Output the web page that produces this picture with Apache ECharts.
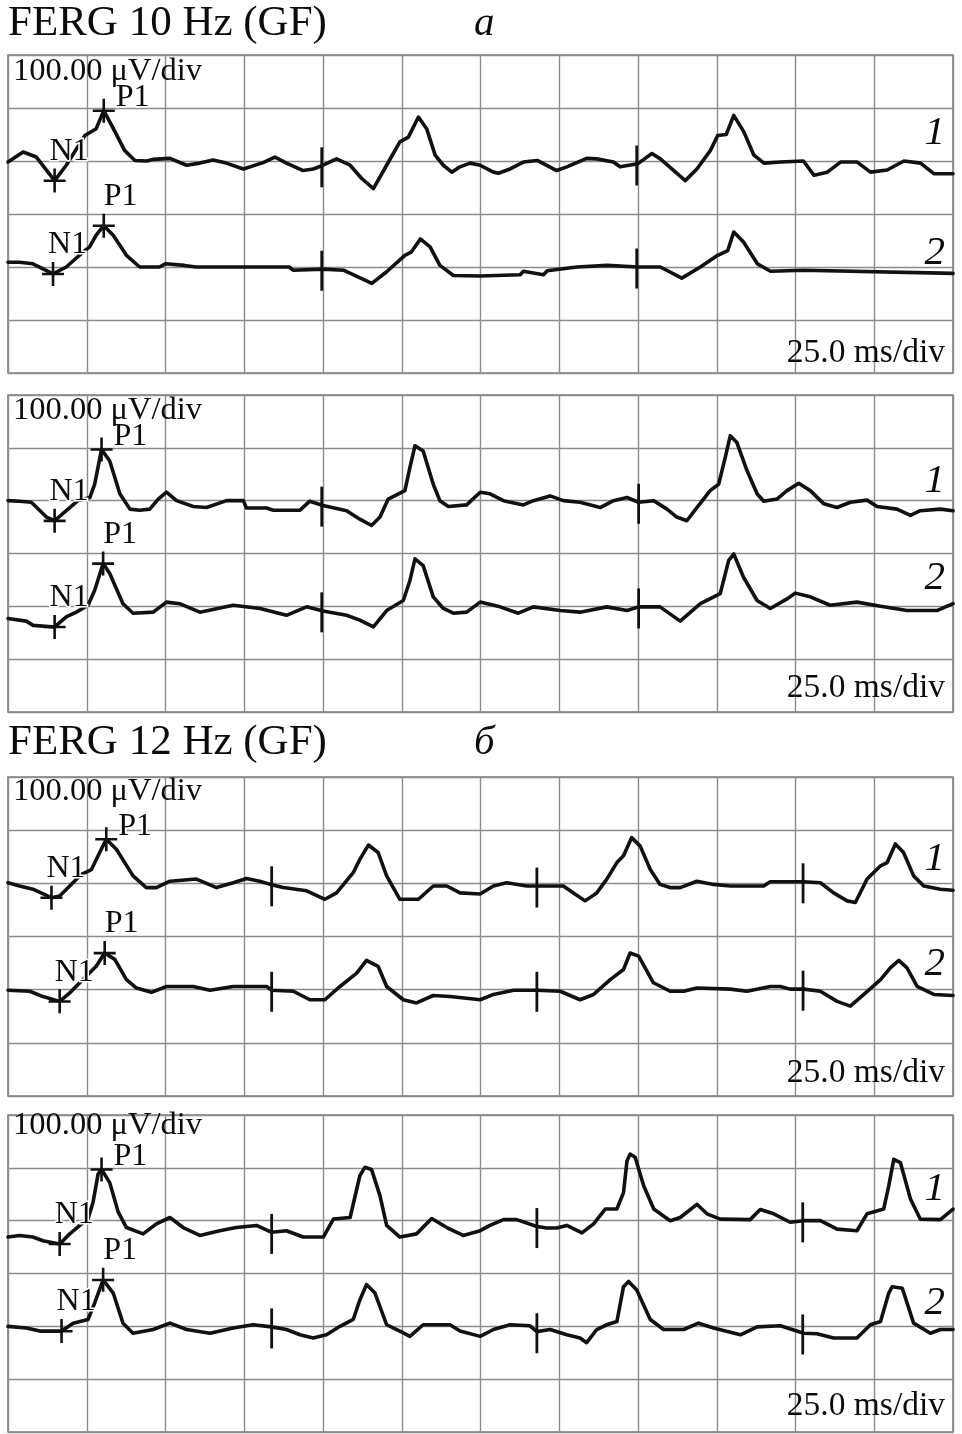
<!DOCTYPE html>
<html>
<head>
<meta charset="utf-8">
<script src="https://cdn.jsdelivr.net/npm/echarts@6/dist/echarts.min.js"></script>
<style>
html,body{margin:0;padding:0;background:#fff;}
#chart{width:962px;height:1434px;}
</style>
</head>
<body>
<div id="chart"></div>
<script>
// ---- DATA (time in ms, amplitude in µV relative to each trace's baseline) ----
const timeTicks = [0,25,50,75,100,125,150,175,200,225,250,275,300];   // 25.0 ms/div
const ampTicks = [0,100,200,300,400,500,600];                          // 100.00 µV/div
const traceBaselines = [400, 200];                                     // trace 1, trace 2

const titles = ["FERG 10 Hz (GF)", "FERG 12 Hz (GF)"];
const titleLetters = ["а", "б"];
const ampLabel = "100.00 μV/div";
const timeLabel = "25.0 ms/div";
const traceNames = ["1", "2"];

// stimulus marks (ms)
const stim10a = [99.6, 199.6];
const stim10b = [99.6, 200.2];
const stim12a = [83.7, 167.9, 252.4];
const stim12b = [83.7, 167.9, 252.3];

// panel 1 (10 Hz, upper)
const p1a = [[0,-2],[4.8,17],[9,7.5],[14.8,-37],[18.5,-8],[24.4,48],[28,61],[30.4,95],[34,55],[37,20],[40.3,1],[44,0],[46,3],[51.4,5],[56.7,-8],[60.9,-4],[65.1,2],[69.3,-4],[74.7,-15],[81,-3],[84.7,7.5],[88.4,-4],[93.7,-18],[96.9,-15],[100,-8],[104.3,4],[108.6,-8],[112.3,-33],[116,-52],[120.2,-8],[124.4,36],[127.1,45],[130.3,83],[132.9,61],[135.6,11],[138.2,-8],[140.9,-21],[143.5,-11],[146.7,-4],[149.9,-8],[154.1,-21],[155.7,-23],[159.4,-15],[163.6,-2],[168,1],[174.2,-18],[177.4,-11],[183.7,5],[186.9,4],[192.2,-2],[194.3,-11],[200,-5],[204.4,14],[207.1,4],[215,-37],[218.7,-15],[223,20],[225.3,48],[228,50],[230.4,86],[233.6,55],[236.8,11],[240,-4],[245.3,-2],[252.5,0],[255.9,-27],[260.1,-21],[264.3,-2],[269.6,-2],[273.8,-21],[279.1,-17],[284.4,0],[289.7,-4],[293.9,-24],[300,-24]];
const p1b = [[0,9],[3.7,9],[7.9,6],[14.3,-13],[18.5,0],[23.8,28],[25.9,38],[28,60],[30.4,78],[33.4,60],[37.6,22],[41.8,0],[48.1,0],[50,6],[56,3],[59.7,0],[89.3,0],[90.5,-6],[100,-4],[106.5,-6],[115.5,-31],[120.2,-9],[126,22],[128,28],[130.9,53],[134,38],[137.1,3],[141.4,-16],[149.9,-17],[162.6,-14.5],[163.6,-8],[170,-14.5],[171.2,-7],[180.6,0],[190.2,3],[200,0],[207.1,0],[213.9,-21],[219.8,0],[225.3,22],[228.5,31],[230.4,66],[233.5,47],[237.9,6],[242.1,-8],[252.5,-6],[300,-12]];
// panel 2 (10 Hz, lower)
const p2a = [[0,0],[3.7,-1],[7.4,-3],[12.2,-31],[14.8,-38],[18.5,-19],[22.2,0],[26,6],[27.5,31],[29.7,97],[32.3,75],[35.5,13],[38.7,-16],[41.8,-18],[45,-16],[47.7,3],[50.3,16],[53.5,0],[58.8,-11],[63,-13],[69.4,0],[74.7,0],[75.7,-14],[82.1,-14],[84.2,-18],[92.7,-18],[95.8,-1],[100,-9],[107.5,-19],[111.7,-35],[115.4,-47],[118.1,-31],[120.7,3],[126,19],[127.6,63],[129.2,104],[131.8,94],[135,31],[137.1,0],[139.8,-11],[145.6,-8],[149.9,16],[153,13],[157.3,0],[163.6,-8],[166.8,0],[172.1,9],[176.3,0],[181.6,-3],[188,-13],[192.2,0],[196.5,6],[200.2,-3],[205,0],[209.2,-16],[212.3,-31],[215.5,-38],[218.7,-13],[222.9,19],[225.6,31],[227.7,82],[229.3,123],[231.4,110],[234.6,57],[237.8,13],[239.9,-1],[244.1,3],[247.3,19],[251,33],[254.7,19],[259,-6],[263.2,-13],[267.4,-3],[272.7,1],[275.9,-11],[282.2,-16],[286.5,-28],[289.6,-19],[296,-16],[300,-19]];
const p2b = [[0,-23],[5.8,-28],[8,-36],[14.8,-39],[18.5,-20],[21.7,-11],[25.4,2],[27.5,30],[30.2,81],[32.3,62],[36.5,5],[39.7,-13],[46.1,-11],[50.3,8],[54.5,5],[60.9,-11],[71.5,2],[80,-4],[88.4,-17],[94.8,-1],[100,-9],[107.5,-17],[111.7,-26],[116,-39],[120.2,-8],[125.5,11],[127.6,49],[129.2,90],[131.8,77],[135,18],[138.2,-4],[141.4,-13],[145.6,-11],[149.9,8],[156.2,-1],[162,-13],[166.8,-1],[175.3,-8],[181.6,-11],[190.1,-1],[196.5,-8],[200.2,-1],[207,-1],[213.4,-28],[219.8,5],[226.1,24],[228.8,87],[230.4,99],[233.5,55],[237.8,11],[242,-4],[247.3,14],[249.9,25],[254.7,18],[261,2],[269.5,8],[277,0],[285.4,-8],[294.9,-8],[300,5]];
// panel 3 (12 Hz, upper)
const p3a = [[0,1],[3.7,-5],[7.9,-11],[13.8,-27],[16.4,-24],[19.6,-5],[23.3,17],[26.5,26],[29.1,58],[31.2,83],[34.4,64],[39.7,14],[43.9,-8],[47.1,-8],[51.4,4],[59.8,8],[66.2,-8],[71.5,1],[75.7,9],[79.9,4],[83.3,-2],[87.4,-8],[94.8,-14],[100.6,-30],[104.3,-18],[109.6,20],[111.7,45],[114.4,72],[117.5,58],[120.2,14],[124.4,-30],[130.3,-30],[135,-5],[139.3,-5],[143.5,-18],[149.9,-20],[154.1,-5],[158.3,1],[164.7,-5],[166.7,-5],[176.3,-5],[179.5,-18],[183.2,-33],[186.9,-18],[190.1,8],[193.3,39],[195.4,52],[198,86],[200.7,70],[203.9,26],[207,-2],[210.2,-8],[213.4,-8],[218.7,4],[224,-2],[229.3,-5],[239.9,-5],[242,3],[250,3],[252.6,3],[257.9,1],[262.1,-18],[266.4,-33],[269,-36],[272.7,8],[277,33],[279.1,39],[281.7,74],[284.3,58],[287.5,14],[290.7,-5],[296,-11],[300,-13]];
const p3b = [[0,-1],[6.9,-3],[11.1,-13],[16.4,-22],[19.6,-6],[23.8,19],[28,44],[30.7,69],[33.9,57],[37.6,19],[40.8,3],[45.5,-5],[50.3,6],[58.8,6],[64.1,-1],[71.5,6],[82.1,6],[83.7,-1],[90.6,-3],[95.8,-19],[100.6,-19],[105.4,6],[110.7,31],[113.8,55],[117.5,44],[120.2,6],[125.5,-19],[129.7,-25],[135,-11],[140.3,-13],[149.9,-19],[154.1,-9],[160.5,-1],[167.9,-1],[175.3,-3],[181.6,-19],[185.9,-9],[191.2,19],[195.4,38],[197.5,69],[200.2,63],[204.9,13],[210.2,-3],[214.5,-3],[218.7,3],[229.3,1],[234.6,-3],[242,6],[245.2,6],[248.3,1],[252.6,1],[257.9,-3],[263.2,-22],[267.4,-31],[271.7,-9],[277,19],[280.1,41],[282.8,55],[285.4,41],[288.6,6],[293.9,-9],[300,-11]];
// panel 4 (12 Hz, lower)
const p4a = [[0,-31],[3.7,-28],[7.9,-31],[11.1,-38],[16.4,-44],[19.6,-25],[22.8,-9],[25.4,3],[27,35],[28.6,88],[29.7,97],[32.3,72],[35,16],[37.6,-13],[42.9,-25],[47.1,-6],[51.4,6],[55.6,-13],[60.9,-28],[67.2,-19],[72.5,-13],[78.9,-9],[83.7,-22],[88.4,-19],[93.7,-31],[100.1,-31],[103.3,3],[108.6,6],[111.7,85],[113.3,101],[115.4,97],[118.1,47],[120.2,-9],[124.4,-31],[129.7,-25],[134.5,4],[139.3,-13],[144.5,-28],[149.9,-19],[153,-9],[157.3,2],[161.5,2],[167.9,-11],[171,-14],[174.2,-14],[177.4,-9],[182.2,-23],[185.9,-6],[189.6,22],[193.3,22],[195.4,53],[196.5,113],[197.5,126],[199.1,120],[201.8,66],[205,22],[210.2,0],[213.4,6],[218.7,31],[221.9,13],[226.1,3],[235.6,2],[238.8,21],[243.1,13],[248.3,-3],[252.6,0],[257.9,0],[263.2,-16],[269.5,-19],[272.7,13],[278,22],[279.6,66],[281.2,116],[283.3,110],[286.5,41],[289.6,3],[296,2],[300,22]];
const p4b = [[0,0],[5.8,-3],[10.1,-9],[17,-9],[20.7,6],[25.4,13],[27.5,44],[30.2,88],[33.4,63],[36.5,6],[39.7,-13],[46.1,-6],[51.4,6],[56.7,-6],[64.1,-13],[71.5,-3],[77.8,3],[83.7,-1],[88.4,-6],[92.7,-16],[96.9,-22],[101.1,-16],[105.4,0],[109.6,13],[111.7,50],[113.8,79],[116.5,63],[120.2,3],[124.4,-9],[127.6,-19],[131.8,3],[140.3,3],[143.5,-9],[149.9,-19],[154.1,-6],[159.4,3],[165.7,1],[167.9,-10],[172.1,-6],[177.4,-16],[181.6,-22],[183.7,-31],[186.9,-6],[190.1,3],[193.3,9],[195.4,75],[197,85],[199.6,69],[203.9,13],[208.1,-6],[214.5,-6],[219.2,6],[224,-3],[232.5,-16],[237.8,-1],[245.2,1],[252.6,-13],[256.8,-14],[262.1,-22],[269.5,-22],[273.8,3],[277,9],[279.6,63],[280.7,75],[283.9,72],[287.5,6],[292.8,-13],[296,-6],[300,-6]];

// N1 / P1 markers: [time ms, µV]  (trace 1, trace 2)
const n1Marks = [[[14.8,-37],[14.3,-13]], [[14.8,-38],[14.8,-39]], [[13.8,-27],[16.4,-22]], [[16.4,-44],[17,-9]]];
const p1Marks = [[[30.4,95],[30.4,78]], [[29.7,97],[30.2,81]], [[31.2,83],[30.7,69]], [[29.7,97],[30.2,88]]];

// ---- LAYOUT ----
const FONT = '"Liberation Serif","Times New Roman",serif';
const TXT = '#0c0c0c';
const gridTops = [55, 395, 777, 1115];
const gridHeights = [318, 317, 319, 317];
const ampBaselineOff = [28, 27, 26, 22];
const timeBaselineOff = [8, 12, 11, 14];
const nameBaselines = [[147, 267], [495, 592], [873, 978], [1203, 1317]];

const panels = [
  {traces: [p1a, p1b], stim: stim10a},
  {traces: [p2a, p2b], stim: stim10b},
  {traces: [p3a, p3b], stim: stim12a},
  {traces: [p4a, p4b], stim: stim12b}
];

function interp(tr, t) {
  for (let i = 1; i < tr.length; i++) {
    if (tr[i][0] >= t) {
      const a = tr[i-1], b = tr[i];
      const f = (t - a[0]) / (b[0] - a[0] || 1);
      return a[1] + f * (b[1] - a[1]);
    }
  }
  return tr[tr.length-1][1];
}

const crossPath = 'path://M0,10.8L22,10.8L22,13.4L0,13.4Z M9.7,0L12.3,0L12.3,24L9.7,24Z';
const markLabelBase = {show: true, position: 'inside', align: 'left', verticalAlign: 'middle',
  fontFamily: FONT, fontSize: 32, color: TXT, textBorderColor: '#fff', textBorderWidth: 3};

const grids = [], xAxes = [], yAxes = [], series = [];
panels.forEach((p, pi) => {
  grids.push({left: 8, right: 9, top: gridTops[pi], height: gridHeights[pi],
    show: true, borderColor: '#7d7d7d', borderWidth: 1.6, backgroundColor: 'transparent'});
  xAxes.push({type: 'value', gridIndex: pi, min: timeTicks[0], max: timeTicks[timeTicks.length-1],
    interval: timeTicks[1]-timeTicks[0], axisLine: {show: false}, axisTick: {show: false},
    axisLabel: {show: false}, splitLine: {show: true, lineStyle: {color: '#8c8c8c', width: 1.4}}});
  yAxes.push({type: 'value', gridIndex: pi, min: ampTicks[0], max: ampTicks[ampTicks.length-1],
    interval: ampTicks[1]-ampTicks[0], axisLine: {show: false}, axisTick: {show: false},
    axisLabel: {show: false}, splitLine: {show: true, lineStyle: {color: '#8c8c8c', width: 1.4}}});
  p.traces.forEach((tr, ti) => {
    const base = traceBaselines[ti];
    const n1 = n1Marks[pi][ti], pp = p1Marks[pi][ti];
    const mp = [];
    p.stim.forEach(t => {
      mp.push({coord: [t, base + interp(tr, t) - 3], symbol: 'rect', symbolSize: [2.8, 40],
        itemStyle: {color: '#111'}, label: {show: false}});
    });
    mp.push({coord: [n1[0], base + n1[1]], symbol: crossPath, symbolSize: [22, 24],
      itemStyle: {color: '#111'},
      label: Object.assign({}, markLabelBase, {formatter: 'N1', offset: [-5, -29]})});
    mp.push({coord: [pp[0], base + pp[1]], symbol: crossPath, symbolSize: [22, 24],
      itemStyle: {color: '#111'},
      label: Object.assign({}, markLabelBase, {formatter: 'P1',
        offset: ti === 0 ? [12, -13] : [0, -29]})});
    series.push({
      type: 'line', xAxisIndex: pi, yAxisIndex: pi, showSymbol: false, symbol: 'none',
      data: tr.map(d => [d[0], base + d[1]]),
      lineStyle: {color: '#111', width: 3.6, join: 'round', cap: 'round'},
      z: 3, silent: true,
      markPoint: {symbolKeepAspect: false, data: mp, z: 5, silent: true, animation: false}
    });
  });
});

// text elements
const graphics = [];
function addText(x, baseline, text, size, align, italic) {
  graphics.push({type: 'text', x: x, y: baseline - 0.34 * size, silent: true, z: 10,
    style: {text: text, font: (italic ? 'italic ' : '') + size + 'px ' + FONT, fill: TXT,
      align: align, verticalAlign: 'middle', textAlign: align, textVerticalAlign: 'middle'}});
}
addText(8, 38, titles[0], 43, 'left', false);
addText(474, 38, titleLetters[0], 41, 'left', true);
addText(8, 757, titles[1], 43, 'left', false);
addText(474, 757, titleLetters[1], 41, 'left', true);
gridTops.forEach((top, pi) => {
  const bottom = top + gridHeights[pi];
  addText(13, top + ampBaselineOff[pi], ampLabel, 32.5, 'left', false);
  addText(945, bottom - timeBaselineOff[pi], timeLabel, 33.5, 'right', false);
  addText(945, nameBaselines[pi][0], traceNames[0], 41, 'right', true);
  addText(945, nameBaselines[pi][1], traceNames[1], 41, 'right', true);
});

const chart = echarts.init(document.getElementById('chart'), null, {renderer: 'canvas'});
chart.setOption({
  animation: false,
  backgroundColor: '#fff',
  grid: grids, xAxis: xAxes, yAxis: yAxes, series: series,
  graphic: {elements: graphics}
});
</script>
</body>
</html>
